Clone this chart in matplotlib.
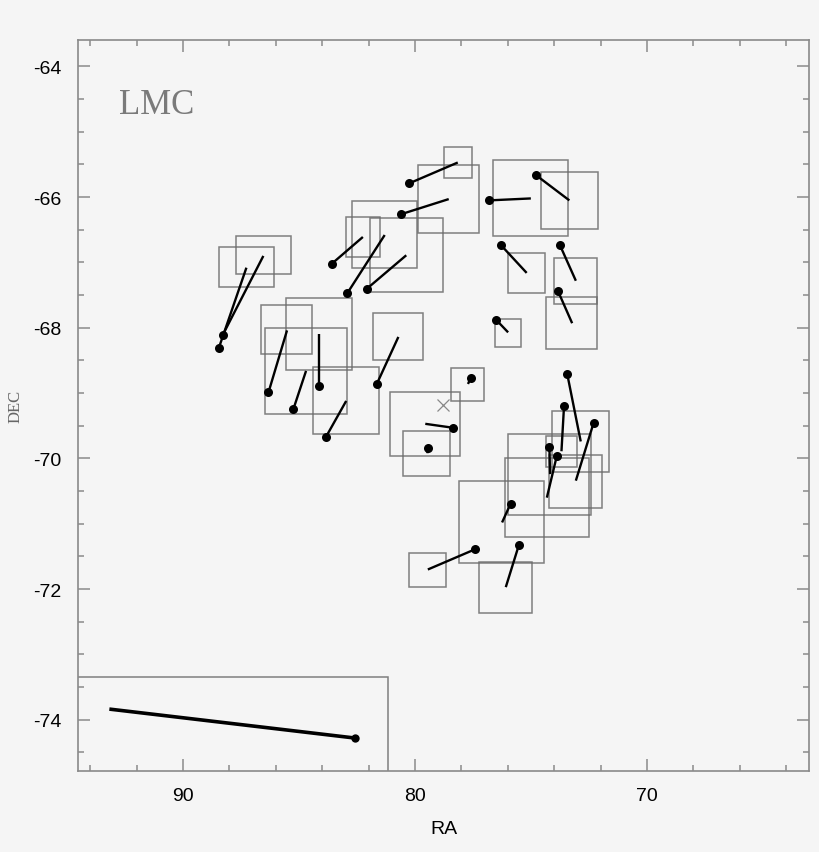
import matplotlib.pyplot as plt
import numpy as np
from matplotlib.patches import Rectangle

plt.rcParams['axes.unicode_minus'] = False

# field boxes: RA range (east, west) and DEC range (top, bottom)
box_ra_e = [78.75, 79.86, 76.64, 74.56, 75.98, 74.00, 74.34, 76.54, 82.97, 82.70,
            81.94, 87.72, 88.44, 86.63, 85.55, 86.48, 84.41, 81.80, 78.44, 81.08,
            80.50, 74.08, 75.98, 74.34, 74.24, 76.11, 78.12, 80.26, 77.23, 95.50]
box_ra_w = [77.53, 77.23, 73.39, 72.10, 74.38, 72.14, 72.14, 75.43, 81.51, 79.90,
            78.78, 85.34, 86.06, 84.43, 82.73, 82.94, 81.54, 79.66, 77.01, 78.05,
            78.49, 71.62, 72.40, 73.00, 71.93, 72.51, 74.43, 78.65, 74.97, 81.15]
box_dec_t = [-65.23, -65.51, -65.43, -65.62, -66.86, -66.93, -67.53, -67.87, -66.30, -66.06,
             -66.32, -66.60, -66.77, -67.65, -67.55, -68.00, -68.60, -67.78, -68.62, -68.99,
             -69.58, -69.28, -69.63, -69.66, -69.94, -70.00, -70.35, -71.44, -71.59, -73.34]
box_dec_b = [-65.71, -66.55, -66.60, -66.49, -67.47, -67.63, -68.33, -68.30, -66.92, -67.08,
             -67.45, -67.17, -67.37, -68.40, -68.64, -69.32, -69.63, -68.50, -69.12, -69.96,
             -70.27, -70.21, -70.87, -70.13, -70.76, -71.21, -71.60, -71.97, -72.36, -75.50]

# vectors: start (dot) and end
vec_ra0 = [80.26, 80.59, 76.82, 74.80, 76.31, 73.75, 73.85, 76.50, 83.59, 82.92,
           82.07, 88.29, 88.46, 86.32, 85.25, 84.14, 81.65, 83.84, 78.37, 77.60,
           79.45, 73.44, 73.58, 72.30, 74.21, 73.89, 75.88, 77.41, 75.53]
vec_dec0 = [-65.79, -66.26, -66.05, -65.66, -66.73, -66.74, -67.43, -67.88, -67.02, -67.47,
            -67.40, -68.11, -68.31, -68.99, -69.25, -68.89, -68.86, -69.67, -69.53, -68.77,
            -69.84, -68.71, -69.20, -69.45, -69.83, -69.96, -70.69, -71.39, -71.33]
vec_ra1 = [78.16, 78.55, 75.01, 73.35, 75.19, 73.07, 73.23, 75.99, 82.25, 81.31,
           80.38, 86.54, 87.27, 85.52, 84.70, 84.14, 80.72, 82.97, 79.56, 77.72,
           79.47, 72.86, 73.69, 73.07, 74.18, 74.32, 76.25, 79.45, 76.09]
vec_dec1 = [-65.47, -66.03, -66.02, -66.05, -67.16, -67.28, -67.93, -68.07, -66.61, -66.58,
            -66.89, -66.90, -67.08, -68.04, -68.66, -68.10, -68.14, -69.12, -69.47, -68.86,
            -69.92, -69.74, -69.89, -70.34, -70.24, -70.60, -70.98, -71.70, -71.97]

# scale vector in the lower left
ref_ra = [82.59, 93.10]
ref_dec = [-74.28, -73.84]

centre_ra, centre_dec = 78.78, -69.18

bg = '#f5f5f5'
fig = plt.figure(figsize=(8.2, 8.53), dpi=100, facecolor=bg)
ax = fig.add_axes([0.0951, 0.0953, 0.8915, 0.857])
ax.set_facecolor(bg)

for e, w, t, b in zip(box_ra_e, box_ra_w, box_dec_t, box_dec_b):
    ax.add_patch(Rectangle((w, b), e - w, t - b, fill=False, edgecolor='#6a6a6a',
                           linewidth=1.1, alpha=0.85))

for r0, d0, r1, d1 in zip(vec_ra0, vec_dec0, vec_ra1, vec_dec1):
    ax.plot([r0, r1], [d0, d1], color='black', lw=1.7, solid_capstyle='butt')
ax.plot(vec_ra0, vec_dec0, 'o', color='black', ms=6.5, mew=0)

ax.plot(ref_ra, ref_dec, color='black', lw=2.6)
ax.plot(ref_ra[0], ref_dec[0], 'o', color='black', ms=6, mew=0)

ax.plot(centre_ra, centre_dec, 'x', color='#888888', ms=9, mew=0.9)

ax.set_xlim(94.53, 63.02)
ax.set_ylim(-74.78, -63.59)

ax.set_xticks([90, 80, 70])
ax.set_xticks(np.arange(64, 95, 2), minor=True)
ax.set_yticks(np.arange(-74, -63, 2))
ax.set_yticks(np.arange(-74.5, -63.5, 0.5), minor=True)

for s in ax.spines.values():
    s.set_color('#8a8a8a')
    s.set_linewidth(1.2)
ax.tick_params(which='both', direction='in', top=True, right=True, color='#8a8a8a', width=1.1)
ax.tick_params(which='major', length=8.6, labelsize=14, pad=12)
ax.tick_params(which='minor', length=4.2)
for lab in ax.get_xticklabels() + ax.get_yticklabels():
    lab.set_family('Liberation Sans')

ax.set_xlabel('RA', fontsize=14, family='Liberation Sans', labelpad=11)
ax.set_ylabel('DEC', fontsize=12, family='Liberation Serif', color='#666666', labelpad=7)

ax.text(0.0565, 0.90, 'LMC', transform=ax.transAxes, fontsize=25,
        family='Liberation Serif', color='#7a7a7a', va='baseline', ha='left')

fig.savefig('out.png', dpi=100, facecolor=bg)
